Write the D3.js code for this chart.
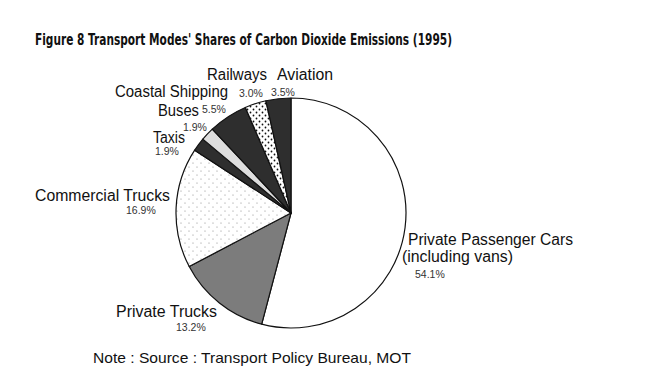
<!DOCTYPE html>
<html lang="en">
<head>
<meta charset="UTF-8">
<script src="https://d3js.org/d3.v7.min.js"></script>
<title>Figure 8</title>
<style>
  body { margin: 0; background: #fff; }
  text { font-family: "Liberation Sans", Arial, sans-serif; fill: #111; }
</style>
</head>
<body>
<svg id="chart" width="650" height="383"></svg>
<script>
// data
const modes = ["Private Passenger Cars", "Private Trucks", "Commercial Trucks", "Taxis",
               "Buses", "Coastal Shipping", "Railways", "Aviation"];
const shares = [54.1, 13.2, 16.9, 1.9, 1.9, 5.5, 3.0, 3.5];
const shareLabels = ["54.1%", "13.2%", "16.9%", "1.9%", "1.9%", "5.5%", "3.0%", "3.5%"];

const svg = d3.select("svg#chart");
const cx = 291, cy = 213, radius = 115;

// patterns for dotted slices
const defs = svg.append("defs");
const sparse = defs.append("pattern").attr("id", "sparse")
    .attr("width", 8).attr("height", 8).attr("patternUnits", "userSpaceOnUse");
sparse.append("rect").attr("width", 8).attr("height", 8).attr("fill", "#fff");
sparse.append("circle").attr("cx", 2).attr("cy", 2).attr("r", 0.6).attr("fill", "#888");
sparse.append("circle").attr("cx", 6).attr("cy", 6).attr("r", 0.6).attr("fill", "#888");
const dense = defs.append("pattern").attr("id", "dense")
    .attr("width", 6).attr("height", 6).attr("patternUnits", "userSpaceOnUse");
dense.append("rect").attr("width", 6).attr("height", 6).attr("fill", "#fff");
dense.append("circle").attr("cx", 1.5).attr("cy", 1.5).attr("r", 0.9).attr("fill", "#111");
dense.append("circle").attr("cx", 4.5).attr("cy", 4.5).attr("r", 0.9).attr("fill", "#111");

const fills = ["#fff", "#7c7c7c", "url(#sparse)", "#2e2e2e", "#dedede", "#2e2e2e", "url(#dense)", "#2e2e2e"];

const pie = d3.pie().sort(null).value(d => d);
const arc = d3.arc().innerRadius(0).outerRadius(radius);

svg.append("g")
    .attr("transform", `translate(${cx},${cy})`)
  .selectAll("path")
  .data(pie(shares))
  .join("path")
    .attr("d", arc)
    .attr("fill", (d, i) => fills[i])
    .attr("stroke", "#111")
    .attr("stroke-width", 1.2)
    .attr("stroke-linejoin", "round");

// title
svg.append("text")
    .attr("x", 35).attr("y", 45)
    .attr("textLength", 417).attr("lengthAdjust", "spacingAndGlyphs")
    .style("font-family", "'DejaVu Sans Condensed', 'Liberation Sans', sans-serif")
    .style("font-size", "15.5px").style("font-weight", "bold")
    .text("Figure 8 Transport Modes' Shares of Carbon Dioxide Emissions (1995)");

// label layout: [name x, name y, pct x, pct y, name width]
const labelPos = [
  [408, 245, 415, 278, 165],
  [116, 317, 176, 331, 101],
  [35, 201, 126, 214, 135],
  [153, 143, 155, 155, 32],
  [158, 116, 183, 131, 41],
  [115, 97, 202, 113, 113],
  [207, 80, 239, 97, 60],
  [277, 80, 271, 96, 56]
];

const labels = svg.append("g");
modes.forEach((m, i) => {
  const p = labelPos[i];
  if (i === 0) {
    labels.append("text").attr("x", p[0]).attr("y", p[1])
        .attr("textLength", p[4]).attr("lengthAdjust", "spacingAndGlyphs")
        .style("font-size", "16px").text("Private Passenger Cars");
    labels.append("text").attr("x", 402).attr("y", 262)
        .attr("textLength", 111).attr("lengthAdjust", "spacingAndGlyphs")
        .style("font-size", "16px").text("(including vans)");
  } else {
    labels.append("text").attr("x", p[0]).attr("y", p[1])
        .attr("textLength", p[4]).attr("lengthAdjust", "spacingAndGlyphs")
        .style("font-size", "16px").text(m);
  }
  labels.append("text").attr("x", p[2]).attr("y", p[3])
      .style("font-size", "10.5px").style("fill", "#333")
      .text(shareLabels[i]);
});

// note
svg.append("text")
    .attr("x", 93).attr("y", 363)
    .attr("textLength", 318).attr("lengthAdjust", "spacingAndGlyphs")
    .style("font-size", "15px")
    .text("Note : Source : Transport Policy Bureau, MOT");
</script>
</body>
</html>
